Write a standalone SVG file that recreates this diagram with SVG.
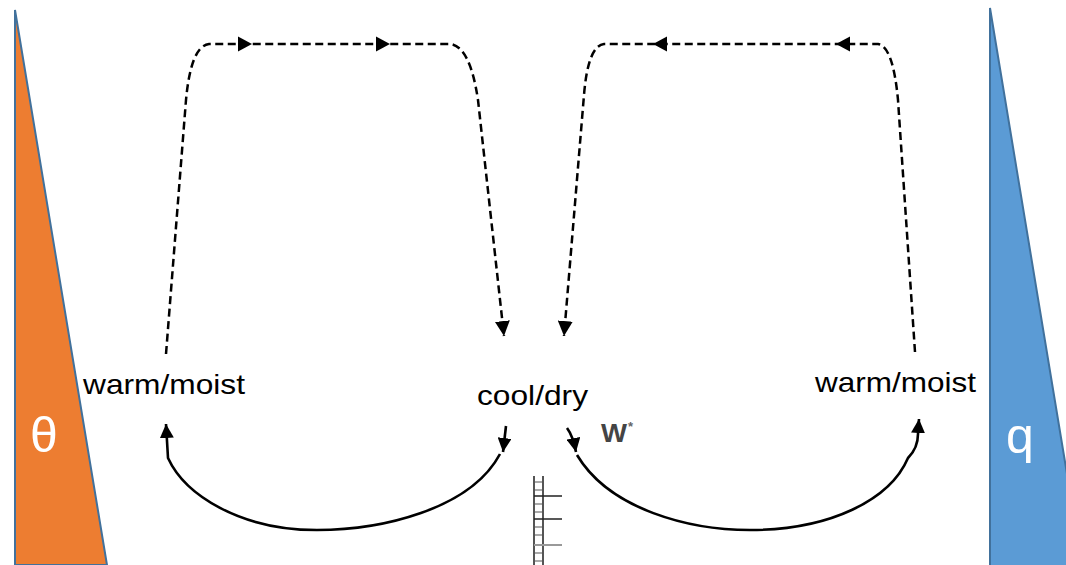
<svg xmlns="http://www.w3.org/2000/svg" width="1066" height="565" viewBox="0 0 1066 565">
<style>
.lbl{font-family:"Liberation Sans",Arial,sans-serif;font-size:28px;fill:#000}
.sym{font-family:"Liberation Sans",Arial,sans-serif;fill:#fff}
.dash{fill:none;stroke:#000;stroke-width:2.5;stroke-dasharray:8 4.5}
.solid{fill:none;stroke:#000;stroke-width:2.6}
.ah{fill:#000}
</style>
<defs>
<marker id="arr" viewBox="0 0 10 10" refX="10" refY="5" markerWidth="15" markerHeight="15" markerUnits="userSpaceOnUse" orient="auto"><path d="M0,0 L10,5 L0,10 Z" fill="#000"/></marker>
<marker id="arrS" viewBox="0 0 10 10" refX="10" refY="5" markerWidth="14" markerHeight="14" markerUnits="userSpaceOnUse" orient="auto"><path d="M0,0 L10,5 L0,10 Z" fill="#000"/></marker>
<path id="ahR" d="M0,0 L-14,-7.5 L-14,7.5 Z"/>
</defs>
<rect width="1066" height="565" fill="#fff"/>
<g id="theta-profile">
<polygon points="15,10 107,565 15,565" fill="#ED7D31" stroke="#41719C" stroke-width="2"/>
<text class="sym" x="44" y="452" font-size="50" text-anchor="middle">θ</text>
</g>
<g id="q-profile">
<polygon points="990,8 1070,492 1070,570 990,570" fill="#5B9BD5" stroke="#41719C" stroke-width="2"/>
<text class="sym" x="1020" y="453" font-size="50" text-anchor="middle">q</text>
</g>
<g id="warm-moist-left"><text class="lbl" x="83" y="394" textLength="162" lengthAdjust="spacingAndGlyphs">warm/moist</text></g>
<g id="cool-dry"><text class="lbl" x="477" y="405" textLength="111" lengthAdjust="spacingAndGlyphs">cool/dry</text></g>
<g id="warm-moist-right"><text class="lbl" x="815" y="392" textLength="161" lengthAdjust="spacingAndGlyphs">warm/moist</text></g>
<g id="w-star"><text x="601" y="442" font-family="'Liberation Sans',Arial,sans-serif" font-size="25" font-weight="bold" fill="#444" textLength="26" lengthAdjust="spacingAndGlyphs">W</text><text x="628" y="431" font-family="'Liberation Sans',Arial,sans-serif" font-size="13" font-weight="bold" fill="#666">*</text></g>
<g id="ladder" stroke="#555" fill="none">
<line x1="534" y1="476" x2="534" y2="565" stroke-width="2"/>
<line x1="543" y1="476" x2="543" y2="565" stroke-width="2"/>
<path d="M534,482 H543 M534,490 H543 M534,504 H543 M534,512 H543 M534,527 H543 M534,535 H543 M534,553 H543 M534,561 H543" stroke-width="1.2"/>
<path d="M534,496 H562 M534,519 H562" stroke="#222" stroke-width="1.6"/>
<path d="M534,545 H562" stroke="#999" stroke-width="2"/>
</g>
<g id="connectors">
<path class="dash" d="M166,354 L186,100 Q191,46 209,44 L450,44 Q470,46 478,100 L504,336" marker-end="url(#arr)"/>
<use href="#ahR" class="ah" x="252" y="44"/>
<use href="#ahR" class="ah" x="390" y="44"/>
<path class="dash" d="M915,352 L898,100 Q893,46 878,44 L604,44 Q588,46 584,95 L564,336" marker-end="url(#arr)"/>
<use href="#ahR" class="ah" transform="translate(653,44) rotate(180)"/>
<use href="#ahR" class="ah" transform="translate(836,44) rotate(180)"/>
<path class="solid" d="M500,454 C470,510 380,530 317,530 C240,530 185,495 168,458 L166,424" marker-end="url(#arrS)"/>
<path class="solid" d="M506,426 L503,452" marker-end="url(#arrS)"/>
<path class="solid" d="M577,455 C610,510 690,530 750,530 C830,530 890,500 908,458 Q918,448 918,434 L919,419" marker-end="url(#arrS)"/>
<path class="solid" d="M567,428 Q573,436 576,452" marker-end="url(#arrS)"/>
</g>
</svg>
